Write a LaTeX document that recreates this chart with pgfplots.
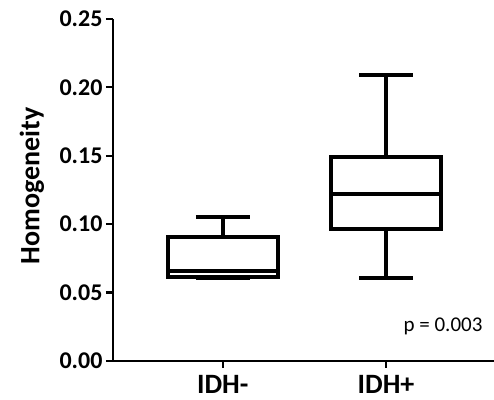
\documentclass[border=0pt]{standalone}
\usepackage{fontspec}
\setmainfont{Carlito}
\usepackage{pgfplots}
\pgfplotsset{compat=1.18}
\usepgfplotslibrary{statistics}
\begin{document}
\begin{tikzpicture}
\begin{axis}[
    scale only axis,
    width=381pt, height=342pt,
    xmin=0.328, xmax=2.661,
    ymin=0, ymax=0.25,
    axis x line=bottom, axis y line=left,
    axis line style={-, line width=2.8pt},
    xtick={1,2}, xticklabels={IDH-,IDH+},
    ytick={0,0.05,0.1,0.15,0.2,0.25},
    tick align=outside, major tick length=7pt,
    tick style={line width=2.2pt, black},
    /pgf/number format/assume math mode=true,
    yticklabel style={font=\bfseries\fontsize{24}{24}\selectfont,
        /pgf/number format/fixed, /pgf/number format/fixed zerofill,
        /pgf/number format/precision=2},
    xticklabel style={font=\bfseries\fontsize{28}{28}\selectfont, yshift=-4pt},
    ylabel={Homogeneity},
    ylabel style={font=\bfseries\fontsize{28}{28}\selectfont,
        at={(axis description cs:-0.213,0.512)}, anchor=center},
    boxplot/draw direction=y,
    clip=false,
]
\coordinate (ll) at (rel axis cs:0,0);
\coordinate (ur) at (rel axis cs:1,1);
\addplot[black, line width=4pt, boxplot prepared={draw position=1,
    lower whisker=0.0606, lower quartile=0.0612, median=0.066,
    upper quartile=0.0909, upper whisker=0.105,
    box extend=0.675, whisker extend=0.33}] coordinates {};
\addplot[black, line width=4pt, boxplot prepared={draw position=2,
    lower whisker=0.0607, lower quartile=0.0963, median=0.122,
    upper quartile=0.1493, upper whisker=0.209,
    box extend=0.675, whisker extend=0.33}] coordinates {};
\node[font=\fontsize{21}{21}\selectfont] at (axis cs:2.349,0.0256) {p = 0.003};
\end{axis}
\pgfresetboundingbox
\path[use as bounding box] ([xshift=-113pt,yshift=-39pt]ll) rectangle ([yshift=19pt]ur);
\end{tikzpicture}
\end{document}
